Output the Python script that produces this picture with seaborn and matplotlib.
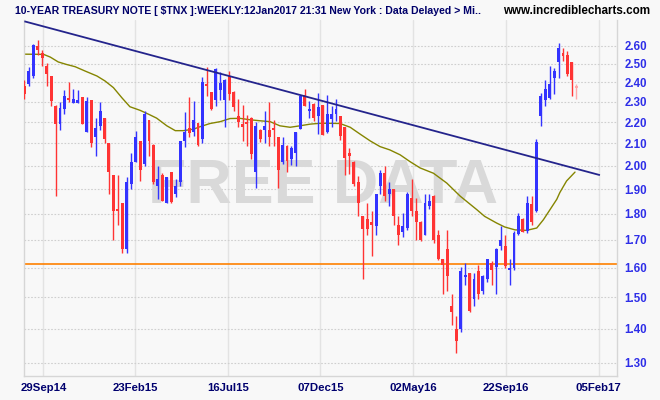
import numpy as np
import pandas as pd
import matplotlib
matplotlib.use("Agg")
import matplotlib.pyplot as plt
from matplotlib import font_manager
from matplotlib.ticker import FixedLocator, FixedFormatter, NullLocator
import seaborn as sns

# weekly candles, Sep 2014 -> Jan 2017 (yield, %)
opens = [2.381, 2.389, 2.433, 2.600, 2.559, 2.489, 2.433, 2.281, 2.190, 2.262,
         2.317, 2.294, 2.294, 2.324, 2.154, 2.310, 2.130, 2.182, 2.218, 2.100,
         1.958, 1.820, 1.842, 1.668, 1.921, 2.017, 2.110, 2.009, 2.210, 2.093,
         1.914, 1.958, 1.845, 1.971, 1.879, 1.928, 2.111, 2.171, 2.154, 2.195,
         2.119, 2.389, 2.349, 2.310, 2.362, 2.310, 2.433, 2.350, 2.229, 2.193,
         2.201, 2.222, 1.971, 2.163, 2.164, 2.163, 2.171, 2.129, 2.014, 2.089,
         2.030, 2.058, 2.168, 2.334, 2.254, 2.291, 2.230, 2.283, 2.154, 2.214,
         2.238, 2.229, 2.175, 2.058, 2.018, 1.928, 1.790, 1.780, 1.770, 1.751,
         1.914, 1.970, 1.879, 1.900, 1.758, 1.728, 1.745, 1.865, 1.810, 1.770,
         1.719, 1.831, 1.872, 1.719, 1.629, 1.668, 1.472, 1.400, 1.399, 1.568,
         1.580, 1.494, 1.590, 1.521, 1.560, 1.615, 1.601, 1.679, 1.679, 1.591,
         1.600, 1.721, 1.781, 1.735, 1.838, 1.810, 2.230, 2.310, 2.320, 2.421,
         2.507, 2.556, 2.550, 2.507, 2.381]
highs = [2.412, 2.481, 2.610, 2.633, 2.574, 2.504, 2.435, 2.283, 2.301, 2.358,
         2.402, 2.367, 2.358, 2.326, 2.324, 2.311, 2.218, 2.300, 2.220, 2.102,
         1.960, 1.958, 1.845, 1.950, 2.058, 2.159, 2.112, 2.254, 2.212, 2.095,
         2.000, 1.970, 1.953, 1.973, 1.942, 2.113, 2.248, 2.325, 2.302, 2.197,
         2.430, 2.479, 2.350, 2.478, 2.455, 2.415, 2.460, 2.352, 2.316, 2.286,
         2.233, 2.225, 2.199, 2.165, 2.252, 2.299, 2.209, 2.131, 2.127, 2.091,
         2.090, 2.153, 2.333, 2.367, 2.302, 2.293, 2.346, 2.285, 2.333, 2.278,
         2.316, 2.231, 2.177, 2.080, 2.020, 1.955, 1.792, 1.842, 1.810, 1.881,
         1.980, 2.000, 1.928, 1.902, 1.790, 1.803, 1.886, 1.942, 1.865, 1.772,
         1.879, 1.879, 1.874, 1.739, 1.630, 1.739, 1.510, 1.440, 1.601, 1.617,
         1.582, 1.580, 1.611, 1.573, 1.631, 1.624, 1.670, 1.751, 1.719, 1.629,
         1.732, 1.802, 1.783, 1.870, 1.871, 2.118, 2.346, 2.410, 2.489, 2.478,
         2.614, 2.586, 2.568, 2.509, 2.389]
lows = [2.316, 2.381, 2.421, 2.546, 2.489, 2.381, 2.281, 1.872, 2.163, 2.238,
        2.301, 2.294, 2.293, 2.190, 2.152, 2.083, 2.042, 2.162, 2.100, 1.879,
        1.700, 1.758, 1.653, 1.653, 1.900, 2.015, 1.933, 1.997, 2.042, 1.920,
        1.858, 1.850, 1.843, 1.844, 1.866, 1.914, 2.083, 2.127, 2.135, 2.090,
        2.103, 2.328, 2.260, 2.278, 2.310, 2.175, 2.310, 2.252, 2.176, 2.110,
        2.088, 2.030, 1.903, 2.106, 2.100, 2.088, 2.088, 1.903, 2.005, 1.972,
        2.002, 2.000, 2.167, 2.278, 2.218, 2.207, 2.143, 2.138, 2.148, 2.176,
        2.206, 2.114, 1.958, 1.962, 1.912, 1.790, 1.560, 1.719, 1.641, 1.719,
        1.879, 1.851, 1.832, 1.758, 1.680, 1.710, 1.738, 1.790, 1.700, 1.698,
        1.717, 1.820, 1.688, 1.627, 1.510, 1.521, 1.411, 1.329, 1.390, 1.540,
        1.452, 1.473, 1.494, 1.510, 1.550, 1.541, 1.510, 1.664, 1.599, 1.540,
        1.591, 1.719, 1.728, 1.726, 1.758, 1.808, 2.182, 2.281, 2.314, 2.341,
        2.425, 2.513, 2.433, 2.328, 2.316]
closes = [2.337, 2.458, 2.606, 2.578, 2.529, 2.442, 2.302, 2.190, 2.270, 2.328,
          2.307, 2.316, 2.310, 2.192, 2.302, 2.103, 2.171, 2.252, 2.119, 1.972,
          1.810, 1.810, 1.668, 1.928, 2.017, 2.129, 1.983, 2.241, 2.111, 1.928,
          1.942, 1.851, 1.951, 1.846, 1.914, 2.111, 2.154, 2.146, 2.210, 2.093,
          2.400, 2.381, 2.262, 2.468, 2.395, 2.412, 2.337, 2.272, 2.200, 2.175,
          2.190, 2.050, 2.181, 2.119, 2.181, 2.130, 2.163, 1.981, 2.091, 2.020,
          2.080, 2.152, 2.331, 2.280, 2.262, 2.220, 2.272, 2.140, 2.238, 2.238,
          2.262, 2.132, 2.035, 2.044, 1.921, 1.845, 1.741, 1.741, 1.758, 1.879,
          1.970, 1.872, 1.900, 1.790, 1.719, 1.751, 1.879, 1.810, 1.770, 1.700,
          1.845, 1.851, 1.700, 1.629, 1.611, 1.571, 1.451, 1.363, 1.588, 1.573,
          1.454, 1.560, 1.510, 1.571, 1.629, 1.591, 1.668, 1.700, 1.607, 1.599,
          1.726, 1.790, 1.731, 1.842, 1.769, 2.107, 2.328, 2.367, 2.389, 2.460,
          2.586, 2.541, 2.445, 2.410, 2.368]

# moving average, x in candle index units
ma_idx = [0.0, 4.3, 5.8, 7.6, 9.5, 11.4, 13.6, 16.3, 18.1, 20.0, 21.9, 23.7,
          26.0, 27.9, 29.7, 32.0, 33.9, 35.7, 38.0, 39.5, 41.7, 44.0, 46.2,
          48.4, 50.7, 53.0, 55.2, 57.4, 59.7, 61.9, 64.2, 66.4, 68.7, 70.9,
          73.2, 75.4, 77.7, 79.9, 82.1, 84.4, 86.6, 88.9, 91.9, 94.9, 97.9,
          101.6, 103.4, 106.1, 107.9, 110.2, 112.8, 115.1, 116.6, 118.1,
          119.6, 120.3, 121.8, 123.7]
ma_val = [2.552, 2.551, 2.536, 2.509, 2.495, 2.483, 2.460, 2.433, 2.407, 2.372,
          2.320, 2.275, 2.257, 2.238, 2.219, 2.182, 2.159, 2.159, 2.166, 2.178,
          2.193, 2.202, 2.217, 2.218, 2.211, 2.206, 2.202, 2.182, 2.175, 2.182,
          2.190, 2.194, 2.194, 2.193, 2.175, 2.143, 2.111, 2.085, 2.070, 2.048,
          2.018, 1.990, 1.967, 1.925, 1.871, 1.817, 1.790, 1.764, 1.749, 1.738,
          1.736, 1.745, 1.777, 1.817, 1.858, 1.886, 1.934, 1.972]

trend_idx = [0.0, 129.3]
trend_val = [2.742, 1.959]
support_level = 1.613

yticks = [1.30, 1.40, 1.50, 1.60, 1.70, 1.80, 1.90, 2.00, 2.10, 2.20, 2.30,
          2.40, 2.50, 2.60]
xtick_idx = [4.27, 24.93, 45.82, 66.49, 87.38, 108.13, 129.02]
xtick_labels = ["29Sep14", "23Feb15", "16Jul15", "07Dec15", "02May16",
                "22Sep16", "05Feb17"]

TITLE = ("10-YEAR TREASURY NOTE [ $TNX ]:WEEKLY:12Jan2017 21:31 New York : "
         "Data Delayed > Mi..")
BLUE, RED, PINK = "#3333ff", "#ff3434", "#ffa8a8"
BG = "#f8f8f8"

sns.set_theme(style="white")
names = {f.name for f in font_manager.fontManager.ttflist}
BASEFONT = "Liberation Sans" if "Liberation Sans" in names else "DejaVu Sans"
NARROW = "Liberation Sans Narrow" if "Liberation Sans Narrow" in names else BASEFONT
plt.rcParams["font.family"] = [BASEFONT, "DejaVu Sans"]

W, H = 660, 400
fig = plt.figure(figsize=(6.6, 4.0), dpi=100, facecolor=BG)
left_px, right_px, top_px, bot_px = 23.5, 617.3, 20, 376
ax = fig.add_axes([left_px / W, 1 - bot_px / H,
                   (right_px - left_px) / W, (bot_px - top_px) / H])
ax.set_facecolor(BG)

df = pd.DataFrame({"open": opens, "high": highs, "low": lows, "close": closes})
df["idx"] = np.arange(len(df))
cols = np.where(df["close"] >= df["open"], BLUE, RED).astype(object)
cols[-1] = PINK
lo = np.minimum(df["open"], df["close"])
hi = np.maximum(np.maximum(df["open"], df["close"]), lo * 1.004)

ax.set_yscale("log")
ax.vlines(df["idx"], df["low"], df["high"], colors=list(cols), lw=1.0, zorder=3)
ax.bar(df["idx"], hi - lo, bottom=lo, width=0.66, color=list(cols),
       linewidth=0, zorder=3)

sns.lineplot(x=ma_idx, y=ma_val, ax=ax, color="#858500", lw=1.0, zorder=2)
ax.plot(trend_idx, trend_val, color="#24248c", lw=1.3, zorder=4,
        solid_capstyle="butt")
ax.axhline(support_level, color="#ff8000", lw=1.2, zorder=2)

ax.set_xlim(-0.2, 133.2)
ax.set_ylim(1.2626, 2.75)

ax.yaxis.tick_right()
ax.yaxis.set_major_locator(FixedLocator(yticks))
ax.yaxis.set_major_formatter(FixedFormatter([f"{v:.2f}" for v in yticks]))
ax.yaxis.set_minor_locator(NullLocator())
ax.xaxis.set_major_locator(FixedLocator(xtick_idx))
ax.xaxis.set_major_formatter(FixedFormatter(xtick_labels))

ax.set_axisbelow(True)
ax.yaxis.grid(True, ls=(0, (1.5, 1.5)), color="#cfcfcf", lw=0.8)
ax.xaxis.grid(True, ls="-", color="#e3e3e3", lw=1.0)
ax.tick_params(axis="y", length=0, pad=5, labelsize=8.3, labelcolor="#2e2ee8")
ax.tick_params(axis="x", length=3, width=1, color="#e3e3e3", pad=2,
               labelsize=8.2, labelcolor="#00006e")
for lab in ax.get_xticklabels() + ax.get_yticklabels():
    lab.set_fontweight("bold")

for side in ("left", "bottom", "right"):
    ax.spines[side].set_color("#d6d6d6")
    ax.spines[side].set_linewidth(1.0)
ax.spines["top"].set_visible(False)

# watermark
wm = ax.text((323.5 - left_px) / (right_px - left_px),
             (bot_px - 186.5) / (bot_px - top_px), "FREE DATA",
             transform=ax.transAxes, ha="center", va="center", fontsize=46,
             weight="bold", color="#d9d9d9",
             family=[BASEFONT, "DejaVu Sans"], zorder=1)

ttl = fig.text(15 / W, 1 - 10.5 / H, TITLE, ha="left", va="center",
               fontsize=9, weight="bold", color="#00006a",
               family=[NARROW, "DejaVu Sans"])
www = fig.text(650 / W, 1 - 10.5 / H, "www.incrediblecharts.com", ha="right",
               va="center", fontsize=9, weight="bold", color="#000000",
               family=[NARROW, "DejaVu Sans"])

renderer = fig.canvas.get_renderer()
for t, target in ((ttl, 469), (www, 147), (wm, 349)):
    w = t.get_window_extent(renderer).width
    t.set_fontsize(t.get_fontsize() * target / w)

fig.savefig("out.png", dpi=100, facecolor=BG)
